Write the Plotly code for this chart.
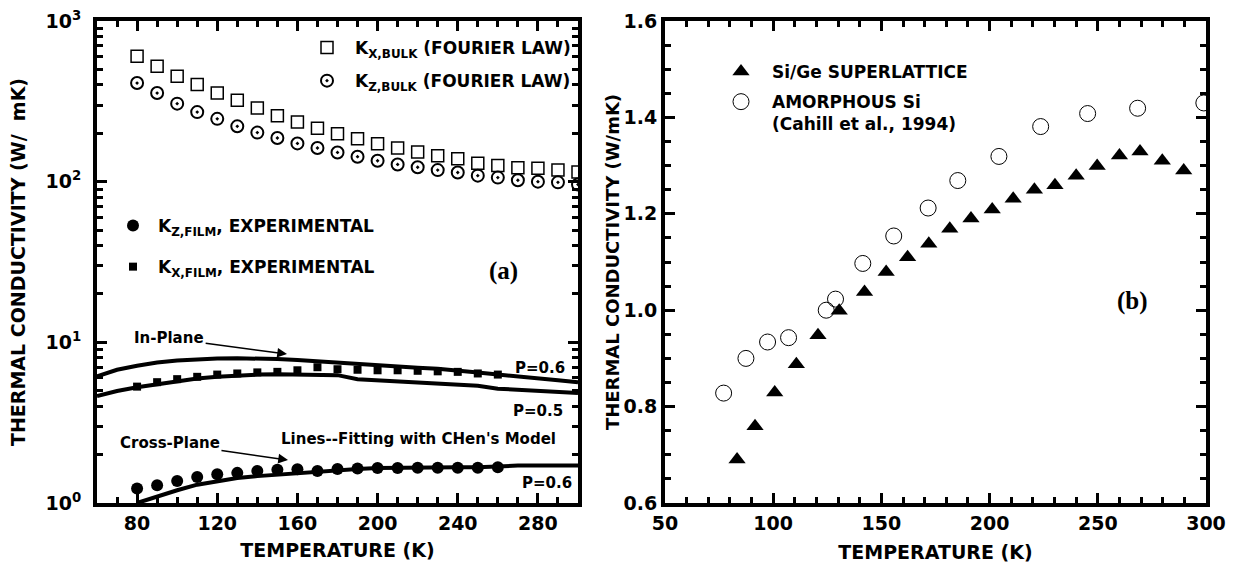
import math
import plotly.graph_objects as go

# ---------------- data: panel (a) ----------------
T_bulk = [80, 90, 100, 110, 120, 130, 140, 150, 160, 170, 180, 190, 200,
          210, 220, 230, 240, 250, 260, 270, 280, 290, 300]
kx_bulk = [604, 523, 453, 402, 356, 321, 287, 257, 235, 215, 199, 185, 172,
           162, 153, 145, 139, 130, 126, 122, 121, 118, 115]
kz_bulk = [411, 356, 306, 271, 246, 221, 202, 187, 173, 162, 152, 143, 135,
           128, 123, 118, 114, 109, 106, 102, 100, 99, 96]

T_film = [80, 90, 100, 110, 120, 130, 140, 150, 160, 170, 180, 190, 200,
          210, 220, 230, 240, 250, 260]
kz_film = [1.23, 1.29, 1.37, 1.45, 1.51, 1.54, 1.58, 1.61, 1.62, 1.58, 1.63,
           1.64, 1.65, 1.65, 1.66, 1.66, 1.66, 1.66, 1.67]
kx_film = [5.3, 5.65, 5.9, 6.1, 6.3, 6.4, 6.5, 6.55, 6.7, 7.0, 6.8, 6.75,
           6.7, 6.7, 6.65, 6.6, 6.55, 6.4, 6.3]

T_fit = [60, 70, 80, 90, 100, 110, 120, 130, 140, 150, 160, 170, 180, 190,
         200, 210, 220, 230, 240, 250, 260, 270, 280, 290, 300]
inplane_p06 = [6.15, 6.75, 7.15, 7.5, 7.7, 7.85, 7.92, 7.95, 7.95, 7.88, 7.75,
               7.6, 7.45, 7.3, 7.15, 7.05, 6.95, 6.85, 6.7, 6.5, 6.3, 6.1,
               5.95, 5.8, 5.65]
inplane_p05 = [4.63, 4.98, 5.25, 5.5, 5.75, 5.95, 6.1, 6.22, 6.3, 6.33, 6.33,
               6.3, 6.25, 5.9, 5.8, 5.7, 5.6, 5.5, 5.42, 5.36, 5.15, 5.05,
               4.97, 4.9, 4.83]

T_cross = [80, 90, 100, 110, 120, 130, 140, 150, 160, 170, 180, 190, 200,
           210, 220, 230, 240, 250, 260, 270, 280, 290, 300]
cross_p06 = [1.0, 1.1, 1.2, 1.3, 1.37, 1.43, 1.47, 1.5, 1.54, 1.58, 1.61,
             1.63, 1.65, 1.66, 1.66, 1.67, 1.67, 1.67, 1.7, 1.71, 1.71, 1.71,
             1.71]

# ---------------- data: panel (b) ----------------
T_sl = [83.3, 91.6, 100.7, 110.7, 120.7, 130.5, 142.2, 152.2, 162.1, 171.9,
        181.6, 191.4, 201.2, 210.9, 220.7, 230.2, 240.0, 249.7, 260.0, 269.5,
        279.8, 289.7]
k_sl = [0.690, 0.759, 0.829, 0.888, 0.948, 0.999, 1.038, 1.079, 1.110, 1.138,
        1.169, 1.190, 1.209, 1.231, 1.250, 1.259, 1.279, 1.299, 1.321, 1.329,
        1.310, 1.290]

T_am = [77.1, 87.4, 97.4, 107.1, 124.5, 128.8, 141.4, 155.7, 171.6, 185.3,
        204.3, 223.6, 245.3, 268.4, 299.0]
k_am = [0.828, 0.900, 0.934, 0.943, 1.000, 1.023, 1.097, 1.154, 1.212, 1.269,
        1.319, 1.381, 1.408, 1.419, 1.430]

# tick labels
a_xticks = [80, 120, 160, 200, 240, 280]
a_yticks = [1, 10, 100, 1000]
a_yticktext = ["10<sup>0</sup>", "10<sup>1</sup>", "10<sup>2</sup>", "10<sup>3</sup>"]

FONT = "DejaVu Sans"
W, H = 1233, 570
TOP, BOT = 21, 503

fig = go.Figure()

# panel (a)
fig.add_trace(go.Scatter(x=T_bulk, y=kx_bulk, mode="markers",
                         name="K<sub>X,BULK</sub> (FOURIER LAW)",
                         marker=dict(symbol="square-open", size=12, color="black",
                                     line=dict(width=1.5, color="black")),
                         xaxis="x", yaxis="y", legend="legend",
                         legendgroup="g1"))
fig.add_trace(go.Scatter(x=T_bulk, y=kz_bulk, mode="markers",
                         name="K<sub>Z,BULK</sub> (FOURIER LAW)",
                         marker=dict(symbol="circle-open-dot", size=12, color="black",
                                     line=dict(width=2, color="black")),
                         xaxis="x", yaxis="y", legend="legend",
                         legendgroup="g2"))
fig.add_trace(go.Scatter(x=T_fit, y=inplane_p06, mode="lines", showlegend=False,
                         line=dict(color="black", width=4),
                         xaxis="x", yaxis="y"))
fig.add_trace(go.Scatter(x=T_fit, y=inplane_p05, mode="lines", showlegend=False,
                         line=dict(color="black", width=4),
                         xaxis="x", yaxis="y"))
fig.add_trace(go.Scatter(x=T_cross, y=cross_p06, mode="lines", showlegend=False,
                         line=dict(color="black", width=4),
                         xaxis="x", yaxis="y"))
fig.add_trace(go.Scatter(x=T_film, y=kz_film, mode="markers",
                         name="K<sub>Z,FILM</sub>, EXPERIMENTAL",
                         marker=dict(symbol="circle", size=12, color="black"),
                         xaxis="x", yaxis="y", legend="legend2",
                         legendgroup="g3"))
fig.add_trace(go.Scatter(x=T_film, y=kx_film, mode="markers",
                         name="K<sub>X,FILM</sub>, EXPERIMENTAL",
                         marker=dict(symbol="square", size=8, color="black"),
                         xaxis="x", yaxis="y", legend="legend2",
                         legendgroup="g4"))

# panel (b)
fig.add_trace(go.Scatter(x=T_sl, y=k_sl, mode="markers",
                         name="Si/Ge SUPERLATTICE",
                         marker=dict(symbol="triangle-up", size=15, color="black"),
                         xaxis="x2", yaxis="y2", legend="legend3",
                         legendgroup="g5"))
fig.add_trace(go.Scatter(x=T_am, y=k_am, mode="markers",
                         name="AMORPHOUS Si<br>(Cahill et al., 1994)",
                         marker=dict(symbol="circle-open", size=16, color="black",
                                     line=dict(width=1, color="black")),
                         xaxis="x2", yaxis="y2", legend="legend3",
                         legendgroup="g6"))

axis_common = dict(showline=True, linewidth=4, linecolor="black", mirror="allticks",
                   ticks="inside", tickwidth=3, ticklen=10, tickcolor="black",
                   showgrid=False, zeroline=False, automargin=False,
                   tickfont=dict(family=FONT, size=19, color="black", weight="bold"))

minor_log = [m * d for d in (1, 10, 100) for m in range(2, 10)]

fig.update_layout(
    width=W, height=H,
    margin=dict(l=0, r=0, t=TOP, b=H - BOT),
    paper_bgcolor="white", plot_bgcolor="white",
    font=dict(family=FONT, color="black"),
    xaxis=dict(domain=[97 / W, 578 / W], range=[60, 300], tickvals=a_xticks,
               minor=dict(dtick=10, tick0=0, ticklen=6, tickwidth=3, ticks="inside",
                          tickcolor="black"),
               title=dict(text="TEMPERATURE (K)", standoff=12,
                          font=dict(family=FONT, size=19, color="black", weight="bold")),
               anchor="y", **axis_common),
    yaxis=dict(domain=[0, 1], type="log", range=[0, 3], tickvals=a_yticks,
               ticktext=a_yticktext, ticklabelstandoff=8,
               minor=dict(tickvals=minor_log, ticklen=6, tickwidth=3, ticks="inside",
                          tickcolor="black"),
               title=dict(text="THERMAL CONDUCTIVITY (W/\u00a0 mK)", standoff=16,
                          font=dict(family=FONT, size=19, color="black", weight="bold")),
               anchor="x", **axis_common),
    xaxis2=dict(domain=[665 / W, 1206 / W], range=[50, 300], dtick=50, tick0=50,
                minor=dict(dtick=10, ticklen=6, tickwidth=3, ticks="inside",
                           tickcolor="black"),
                title=dict(text="TEMPERATURE (K)", standoff=14,
                           font=dict(family=FONT, size=19, color="black", weight="bold")),
                anchor="y2", **axis_common),
    yaxis2=dict(domain=[0, 1], range=[0.6, 1.6], dtick=0.2, tick0=0.6,
                tickformat=".1f",
                minor=dict(dtick=0.05, ticklen=6, tickwidth=3, ticks="inside",
                           tickcolor="black"),
                title=dict(text="THERMAL CONDUCTIVITY (W/mK)", standoff=0,
                           font=dict(family=FONT, size=18, color="black", weight="bold")),
                anchor="x2", **axis_common),
    legend=dict(x=299 / W, y=(BOT - 30) / (BOT - TOP), xanchor="left", yanchor="top",
                bgcolor="rgba(0,0,0,0)", itemwidth=46, traceorder="grouped",
                tracegroupgap=8,
                font=dict(family=FONT, size=17, color="black", weight="bold")),
    legend2=dict(x=108 / W, y=(BOT - 208) / (BOT - TOP), xanchor="left", yanchor="top",
                 bgcolor="rgba(0,0,0,0)", itemwidth=40, traceorder="grouped",
                 tracegroupgap=16,
                 font=dict(family=FONT, size=17, color="black", weight="bold")),
    legend3=dict(x=710 / W, y=(BOT - 54) / (BOT - TOP), xanchor="left", yanchor="top",
                 bgcolor="rgba(0,0,0,0)", itemwidth=52, traceorder="grouped",
                 tracegroupgap=5, valign="top",
                 font=dict(family=FONT, size=17, color="black", weight="bold")),
)

lg = math.log10
txt = dict(family=FONT, size=15, color="black", weight="bold")
ann = [
    dict(x=262.6, y=lg(27.8), xref="x", yref="y", text="(a)", showarrow=False,
         font=dict(family="Liberation Serif", size=25, color="black", weight="bold")),
    dict(x=266, y=1.02, xref="x2", yref="y2", text="(b)", showarrow=False,
         font=dict(family="Liberation Serif", size=25, color="black", weight="bold")),
    dict(x=154.8, y=lg(8.45), ax=96, ay=lg(10.6), xref="x", yref="y",
         axref="x", ayref="y", text="In-Plane", showarrow=True, arrowhead=2,
         arrowsize=1.3, arrowwidth=1.5, arrowcolor="black", font=txt),
    dict(x=155.3, y=lg(1.85), ax=96.4, ay=lg(2.36), xref="x", yref="y",
         axref="x", ayref="y", text="Cross-Plane", showarrow=True, arrowhead=2,
         arrowsize=1.3, arrowwidth=1.5, arrowcolor="black", font=txt),
    dict(x=220.2, y=lg(2.5), xref="x", yref="y", text="Lines--Fitting with CHen's Model",
         showarrow=False, font=txt),
    dict(x=294.5, y=lg(6.9), xref="x", yref="y", text="P=0.6", xanchor="right",
         showarrow=False, font=txt),
    dict(x=293.5, y=lg(3.74), xref="x", yref="y", text="P=0.5", xanchor="right",
         showarrow=False, font=txt),
    dict(x=298, y=lg(1.33), xref="x", yref="y", text="P=0.6", xanchor="right",
         showarrow=False, font=txt),
]
fig.update_layout(annotations=ann)

fig.write_html("out.html")
